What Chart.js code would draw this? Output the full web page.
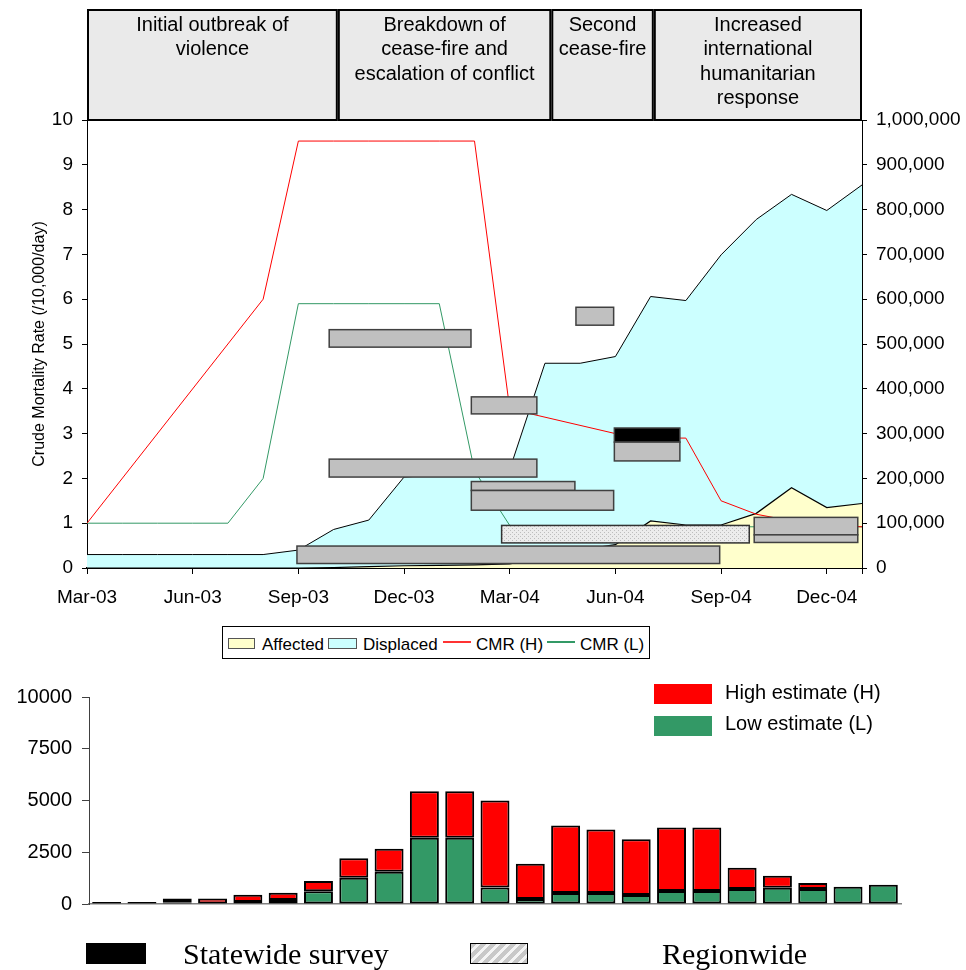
<!DOCTYPE html>
<html>
<head>
<meta charset="utf-8">
<script src="https://cdn.jsdelivr.net/npm/chart.js@4.4.1/dist/chart.umd.min.js"></script>
<style>
body { margin:0; width:966px; height:970px; overflow:hidden; background:#fff; position:relative; font-family:'Liberation Sans', Arial, sans-serif; color:#000; }
#grafikAtas { position:absolute; left:0; top:0; }
#grafikBawah { position:absolute; left:0; top:660px; }
.abs { position:absolute; white-space:nowrap; }
.teks17 { font-size:17px; line-height:17px; }
.teks20 { font-size:20px; line-height:20px; }
.serif { font-family:'Liberation Serif', 'Times New Roman', serif; font-size:30px; line-height:30px; }
</style>
</head>
<body>
<canvas id="grafikAtas" width="966" height="625"></canvas>
<canvas id="grafikBawah" width="966" height="310"></canvas>

<!-- legenda grafik atas -->
<div class="abs" style="left:222px;top:626px;width:426px;height:31px;border:1px solid #000;"></div>
<div class="abs" style="left:228px;top:638px;width:25px;height:9px;background:#FFFFCC;border:1px solid #555;"></div>
<div class="abs teks17" style="left:262px;top:636px;">Affected</div>
<div class="abs" style="left:328px;top:638px;width:27px;height:9px;background:#CCFFFF;border:1px solid #555;"></div>
<div class="abs teks17" style="left:363px;top:636px;">Displaced</div>
<div class="abs" style="left:443px;top:641px;width:28px;height:1.5px;background:#FF3333;"></div>
<div class="abs teks17" style="left:476px;top:636px;">CMR (H)</div>
<div class="abs" style="left:547px;top:641px;width:28px;height:1.5px;background:#339966;"></div>
<div class="abs teks17" style="left:580px;top:636px;">CMR (L)</div>

<!-- legenda grafik bawah -->
<div class="abs" style="left:654px;top:684px;width:58px;height:20px;background:#FF0000;"></div>
<div class="abs teks20" style="left:725px;top:682px;">High estimate (H)</div>
<div class="abs" style="left:654px;top:716px;width:58px;height:20px;background:#339966;"></div>
<div class="abs teks20" style="left:725px;top:713px;">Low estimate (L)</div>

<div class="abs" style="left:86px;top:943px;width:60px;height:21px;background:#000;"></div>
<div class="abs serif" style="left:183px;top:939px;">Statewide survey</div>
<div class="abs" style="left:470px;top:943px;width:56px;height:19px;border:1px solid #000;background:repeating-linear-gradient(135deg,#C8C8C8 0px,#C8C8C8 4px,#F4F4F4 4px,#F4F4F4 7px);"></div>
<div class="abs serif" style="left:662px;top:939px;">Regionwide</div>

<script>
const bulan = ['Mar-03','Apr-03','May-03','Jun-03','Jul-03','Aug-03','Sep-03','Oct-03','Nov-03','Dec-03','Jan-04','Feb-04',
               'Mar-04','Apr-04','May-04','Jun-04','Jul-04','Aug-04','Sep-04','Oct-04','Nov-04','Dec-04','Jan-05'];

// jumlah orang (sumbu kanan)
const mengungsi = [30000,30000,30000,30000,30000,30000,40000,86000,107000,203000,208000,214000,
                   220000,457000,457000,472000,606000,597000,699000,778000,834000,798000,855000];
const terdampak = [0,0,0,0,0,0,0,1000,3000,5000,6000,7000,
                   9000,25000,40000,52000,105000,96000,96000,122000,179000,135000,144000];

// angka kematian kasar (sumbu kiri)
const cmrTinggi = [1.0,null,null,null,null,6.0,9.53,9.53,9.53,9.53,9.53,9.53,
                   3.55,null,null,3.0,2.9,2.9,1.5,1.2,1.05,0.95,0.92];
const cmrRendah = [1.0,1.0,1.0,1.0,1.0,2.0,5.9,5.9,5.9,5.9,5.9,2.17,
                   0.95,0.92,0.92,0.92,0.92,0.92,0.92,0.92,0.92,0.92,0.92];

// periode survei (indeks bulan) dan rentang CMR
const surveiMulai   = [6.875,13.88,10.91,14.97,14.97,6.875,10.91,10.91,11.77,5.96,18.94,18.94];
const surveiSelesai = [10.9,14.95,12.77,16.83,16.83,12.77,13.85,14.95,18.8,17.96,21.88,21.88];
const surveiBawah   = [4.93,5.42,3.44,2.81,2.39,2.03,1.73,1.29,0.56,0.10,0.74,0.57];
const surveiAtas    = [5.32,5.82,3.82,3.125,2.81,2.43,1.93,1.73,0.95,0.49,1.13,0.74];
const surveiJenis   = ['lokal','lokal','lokal','negara','lokal','lokal','lokal','lokal','wilayah','lokal','lokal','lokal'];

// fase konflik
const batasFase = [0, 7.12, 13.18, 16.09, 22];
const judulFase = [
    ['Initial outbreak of', 'violence'],
    ['Breakdown of', 'cease-fire and', 'escalation of conflict'],
    ['Second', 'cease-fire'],
    ['Increased', 'international', 'humanitarian', 'response']
];

// kematian per bulan
const kematianTinggi = [100,100,270,270,450,545,1110,2215,2665,5445,5445,4995,1945,3790,3600,3130,3690,3690,1750,1365,1010,830,930];
const kematianRendah = [50,50,80,30,100,190,610,1270,1560,3195,3195,800,240,530,530,430,625,625,720,785,720,830,930];

const hurufSans = "'Liberation Sans', Arial, sans-serif";
const titik = arr => arr.map((v, i) => ({ x: i, y: v }));

function buatPolaTitik() {
    const c = document.createElement('canvas'); c.width = 4; c.height = 4;
    const g = c.getContext('2d');
    g.fillStyle = '#ECECEC'; g.fillRect(0, 0, 4, 4);
    g.fillStyle = '#BDBDBD'; g.fillRect(0, 0, 1, 1); g.fillRect(2, 2, 1, 1);
    return g.createPattern(c, 'repeat');
}

const pluginSurvei = {
    id: 'kotakSurvei',
    afterDatasetsDraw(chart) {
        const { ctx, scales: { x, y } } = chart;
        const pola = buatPolaTitik();
        ctx.save();
        surveiMulai.forEach((m, i) => {
            const x1 = x.getPixelForValue(m), x2 = x.getPixelForValue(surveiSelesai[i]);
            const y1 = y.getPixelForValue(surveiAtas[i]), y2 = y.getPixelForValue(surveiBawah[i]);
            const jenis = surveiJenis[i];
            ctx.fillStyle = jenis === 'negara' ? '#000' : jenis === 'wilayah' ? pola : '#C0C0C0';
            ctx.fillRect(x1, y1, x2 - x1, y2 - y1);
            ctx.strokeStyle = jenis === 'wilayah' ? '#333' : '#404040';
            ctx.lineWidth = 1.5;
            ctx.strokeRect(x1, y1, x2 - x1, y2 - y1);
        });
        ctx.restore();
    }
};

const pluginFase = {
    id: 'kotakFase',
    afterDraw(chart) {
        const { ctx, chartArea, scales: { x } } = chart;
        ctx.save();
        for (let i = 0; i < judulFase.length; i++) {
            const x1 = x.getPixelForValue(batasFase[i]) + 1;
            const x2 = x.getPixelForValue(batasFase[i + 1]) - 1;
            ctx.fillStyle = '#EAEAEA';
            ctx.fillRect(x1, 10, x2 - x1, chartArea.top - 10);
            ctx.strokeStyle = '#000'; ctx.lineWidth = 2;
            ctx.strokeRect(x1, 10, x2 - x1, chartArea.top - 10);
            ctx.fillStyle = '#000';
            ctx.font = '20px ' + hurufSans;
            ctx.textAlign = 'center'; ctx.textBaseline = 'alphabetic';
            judulFase[i].forEach((baris, j) => ctx.fillText(baris, (x1 + x2) / 2, 30.5 + j * 24.5));
        }
        ctx.restore();
    }
};

window.onload = () => {
    new Chart(document.getElementById('grafikAtas'), {
        type: 'line',
        data: {
            datasets: [
                { label: 'CMR (H)', data: titik(cmrTinggi), yAxisID: 'y', borderColor: '#FF0000', borderWidth: 1, pointRadius: 0, tension: 0, spanGaps: true, fill: false },
                { label: 'CMR (L)', data: titik(cmrRendah), yAxisID: 'y', borderColor: '#339966', borderWidth: 1, pointRadius: 0, tension: 0, fill: false },
                { label: 'Affected', data: titik(terdampak), yAxisID: 'y2', borderColor: '#000', borderWidth: 1.2, backgroundColor: '#FFFFCC', pointRadius: 0, tension: 0, fill: 'origin' },
                { label: 'Displaced', data: titik(mengungsi), yAxisID: 'y2', borderColor: '#000', borderWidth: 1, backgroundColor: '#CCFFFF', pointRadius: 0, tension: 0, fill: 'origin' }
            ]
        },
        options: {
            responsive: false, animation: false,
            layout: { padding: { top: 120, left: 0, right: 0, bottom: 0 } },
            plugins: { legend: { display: false }, tooltip: { enabled: false } },
            scales: {
                x: {
                    type: 'linear', min: 0, max: bulan.length - 1,
                    afterBuildTicks: s => { s.ticks = bulan.map((b, i) => i).filter(i => i % 3 === 0 || i === bulan.length - 1).map(v => ({ value: v })); },
                    afterFit: s => { s.height = 57; },
                    grid: { drawOnChartArea: false, drawTicks: true, tickLength: 6, color: '#000' },
                    border: { color: '#000', width: 2 },
                    ticks: { autoSkip: false, maxRotation: 0, padding: 12, color: '#000', font: { size: 19, family: hurufSans },
                             callback: v => (v % 3 === 0 && v < bulan.length - 1) ? bulan[v] : '' }
                },
                y: {
                    position: 'left', min: 0, max: 10,
                    afterFit: s => { s.width = 87; },
                    grid: { drawOnChartArea: false, tickLength: 5, color: '#000' },
                    border: { color: '#000' },
                    ticks: { stepSize: 1, padding: 9, color: '#000', font: { size: 19, family: hurufSans } },
                    title: { display: true, text: 'Crude Mortality Rate (/10,000/day)', color: '#000', font: { size: 16, family: hurufSans }, padding: { top: 30, bottom: 0 } }
                },
                y2: {
                    position: 'right', min: 0, max: 1000000,
                    afterFit: s => { s.width = 104; },
                    grid: { drawOnChartArea: false, tickLength: 5, color: '#000' },
                    border: { color: '#000' },
                    ticks: { stepSize: 100000, padding: 9, color: '#000', font: { size: 19, family: hurufSans },
                             callback: v => v.toLocaleString('en-US') }
                }
            }
        },
        plugins: [pluginSurvei, pluginFase]
    });

    new Chart(document.getElementById('grafikBawah'), {
        type: 'bar',
        data: {
            labels: bulan,
            datasets: [
                { label: 'Low estimate (L)', data: kematianRendah, backgroundColor: '#339966', borderColor: '#000', borderWidth: 2, borderSkipped: false },
                { label: 'High estimate (H)', data: kematianTinggi.map((v, i) => v - kematianRendah[i]), backgroundColor: '#FF0000', borderColor: '#000', borderWidth: 2, borderSkipped: false }
            ]
        },
        options: {
            responsive: false, animation: false,
            layout: { padding: { top: 37, right: 65, left: 0, bottom: 0 } },
            plugins: { legend: { display: false }, tooltip: { enabled: false } },
            datasets: { bar: { barPercentage: 0.82, categoryPercentage: 1 } },
            scales: {
                x: {
                    stacked: true,
                    afterFit: s => { s.height = 66; },
                    grid: { display: false },
                    border: { color: '#808080', width: 1.5 },
                    ticks: { display: false }
                },
                y: {
                    stacked: true, min: 0, max: 10000,
                    afterFit: s => { s.width = 89; },
                    grid: { drawOnChartArea: false, tickLength: 7, color: '#404040' },
                    border: { color: '#404040' },
                    ticks: { stepSize: 2500, padding: 10, color: '#000', font: { size: 20, family: hurufSans },
                             callback: v => String(v) }
                }
            }
        }
    });
};
</script>
</body>
</html>
